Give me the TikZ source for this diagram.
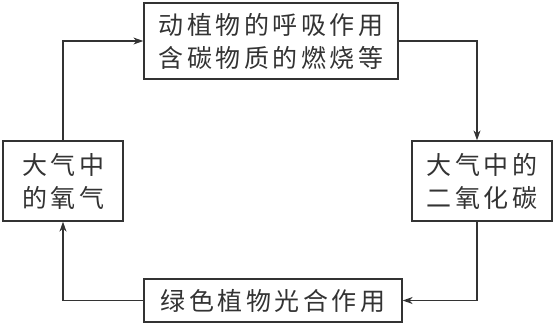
\documentclass[tikz,border=0pt]{standalone}
\usepackage{fontspec}
\newfontfamily\cjk[LetterSpace=14]{Noto Sans CJK SC}
\usetikzlibrary{arrows.meta}
\definecolor{ink}{HTML}{333333}
\tikzset{
  box/.style={draw=ink, line width=1.3pt, inner sep=0pt, align=center,
    text=ink, font=\cjk\fontsize{25}{33}\selectfont},
  link/.style={draw=ink, line width=1.2pt, -{Stealth[length=10pt,width=7pt]}}
}
\begin{document}
\begin{tikzpicture}[x=1pt,y=-1pt]
\useasboundingbox (0,0) rectangle (554,325);
\node[box, minimum width=254pt, minimum height=76pt] (top) at (271,41) {动植物的呼吸作用\\含碳物质的燃烧等};
\node[box, minimum width=120pt, minimum height=80pt] (left) at (63,181) {大气中\\的氧气};
\node[box, minimum width=140pt, minimum height=80pt] (right) at (482,181) {大气中的\\二氧化碳};
\node[box, minimum width=258pt, minimum height=43pt] (bottom) at (273,300.5) {绿色植物光合作用};
\draw[link] (left.north) |- (top.west);
\draw[link] (top.east) -| ([xshift=-5pt]right.north);
\draw[link] ([xshift=-5pt]right.south) |- (bottom.east);
\draw[link] (bottom.west) -| (left.south);
\end{tikzpicture}
\end{document}
